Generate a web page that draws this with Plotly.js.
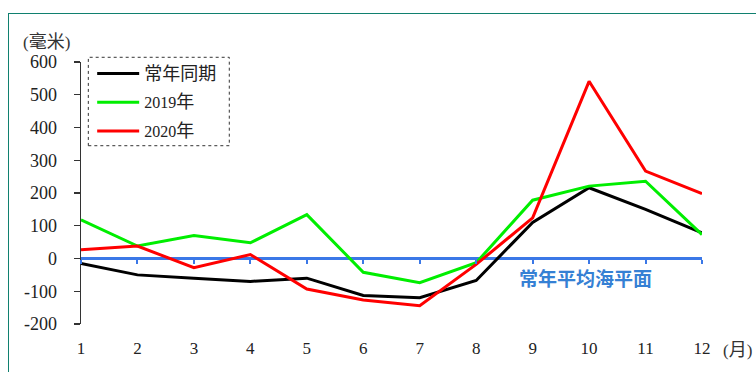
<!DOCTYPE html>
<html>
<head>
<meta charset="utf-8">
<script src="https://cdn.plot.ly/plotly-3.0.1.min.js"></script>
<style>
  html, body { margin: 0; padding: 0; background: #ffffff; }
  #frame {
    position: absolute; left: 8px; top: 13px; width: 800px; height: 400px;
    border-left: 1.5px solid #10806f; border-top: 1.5px solid #10806f;
    z-index: 0;
  }
  #chart { position: absolute; left: 0; top: 0; width: 756px; height: 372px; z-index: 1; }
</style>
</head>
<body>
<div id="frame"></div>
<div id="chart"></div>
<script>
// Monthly mean sea level anomaly (mm) relative to the long-term average
const months = [1, 2, 3, 4, 5, 6, 7, 8, 9, 10, 11, 12];
const normalYear = [-15, -50, -60, -70, -60, -113, -120, -67, 110, 216, 150, 78];
const year2019 = [118, 38, 70, 48, 134, -42, -74, -13, 178, 221, 236, 73];
const year2020 = [27, 38, -28, 12, -93, -127, -144, -18, 124, 541, 267, 198];
const baseline = [0, 0, 0, 0, 0, 0, 0, 0, 0, 0, 0, 0];
const yTicks = [-200, -100, 0, 100, 200, 300, 400, 500, 600];

const LATIN = "'Liberation Serif', 'Times New Roman', serif";
const MIXED = "'Liberation Serif', 'Noto Sans CJK SC', serif";
const cjk = s => '<span style="font-family:\'Noto Sans CJK SC\';font-size:18px">' + s + '</span>';

const traces = [
  // mean sea level reference line, on the labelled bottom axis (drawn beneath the series)
  {
    x: months, y: baseline, type: 'scatter', mode: 'lines',
    xaxis: 'x', yaxis: 'y',
    line: { color: '#3b78e7', width: 3 },
    showlegend: false, hoverinfo: 'skip'
  },
  // the series sit on the axis that crosses at zero and carries the blue tick marks
  {
    x: months, y: normalYear, type: 'scatter', mode: 'lines', name: cjk('常年同期'),
    xaxis: 'x2', yaxis: 'y',
    legendgroup: 'a', line: { color: '#000000', width: 3 }
  },
  {
    x: months, y: year2019, type: 'scatter', mode: 'lines', name: '2019' + cjk('年'),
    xaxis: 'x2', yaxis: 'y',
    legendgroup: 'b', line: { color: '#00ee00', width: 3 }
  },
  {
    x: months, y: year2020, type: 'scatter', mode: 'lines', name: '2020' + cjk('年'),
    xaxis: 'x2', yaxis: 'y',
    legendgroup: 'c', line: { color: '#ff0000', width: 3 }
  }
];

const layout = {
  width: 756, height: 372,
  margin: { l: 81, r: 54, t: 62, b: 48 },
  paper_bgcolor: 'rgba(0,0,0,0)',
  plot_bgcolor: 'rgba(0,0,0,0)',
  font: { family: MIXED, size: 17, color: '#222222' },
  showlegend: true,
  xaxis: {
    range: [1, 12], tickvals: months, ticktext: months.map(String),
    showline: false, showgrid: false, zeroline: false, ticks: '',
    ticklabelstandoff: 12,
    tickfont: { family: LATIN, size: 17, color: '#222222' }
  },
  xaxis2: {
    overlaying: 'x', anchor: 'free', position: 0.25,
    range: [1, 12], tickvals: months, showticklabels: false,
    showline: false, showgrid: false, zeroline: false,
    ticks: 'outside', ticklen: 4, tickwidth: 2, tickcolor: '#3b78e7'
  },
  yaxis: {
    range: [-200, 600], tickvals: yTicks, ticktext: yTicks.map(String),
    showline: true, linecolor: '#333333', linewidth: 1.3,
    ticks: 'outside', ticklen: 6, tickwidth: 1.3, tickcolor: '#333333',
    showgrid: false, zeroline: false, ticklabelstandoff: 13,
    tickfont: { family: LATIN, size: 18, color: '#222222' }
  },
  legend: {
    x: 0.018, y: 1.021, xanchor: 'left', yanchor: 'top',
    bgcolor: 'rgba(255,255,255,0)', borderwidth: 0,
    traceorder: 'grouped', tracegroupgap: 5, itemwidth: 42,
    font: { family: LATIN, size: 16, color: '#222222' }
  },
  shapes: [
    {
      type: 'rect', xref: 'paper', yref: 'paper',
      x0: 0.0118, x1: 0.2388, y0: 0.6805, y1: 1.018,
      line: { color: '#333333', width: 1, dash: 'dot' }
    }
  ],
  annotations: [
    {
      text: '(' + cjk('毫米') + ')', xref: 'paper', yref: 'paper',
      x: -0.0548, y: 1.084, xanchor: 'center', yanchor: 'middle',
      showarrow: false, font: { family: LATIN, size: 17, color: '#333333' }
    },
    {
      text: '(' + cjk('月') + ')', xref: 'paper', yref: 'paper',
      x: 1.0564, y: -0.0916, xanchor: 'center', yanchor: 'middle',
      showarrow: false, font: { family: LATIN, size: 17, color: '#333333' }
    },
    {
      text: '<b>常年平均海平面</b>', xref: 'x', yref: 'y',
      x: 9.93, y: -58, xanchor: 'center', yanchor: 'middle',
      showarrow: false,
      font: { family: "'Noto Sans CJK SC'", size: 19, color: '#3580d4' }
    }
  ]
};

Plotly.newPlot('chart', traces, layout, { displayModeBar: false, staticPlot: true });
</script>
</body>
</html>
